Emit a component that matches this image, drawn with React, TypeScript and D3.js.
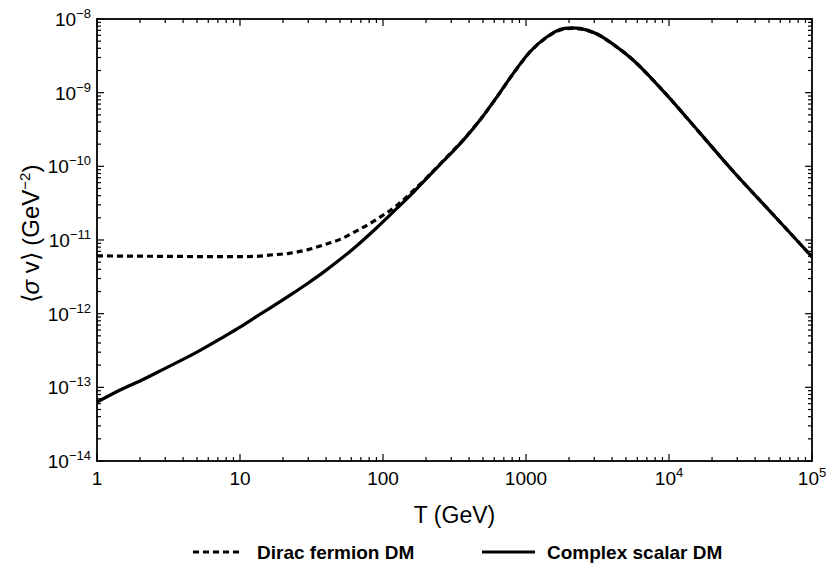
import React from "react";
import * as d3 from "d3";

const tValues = [1, 1.5, 2, 3, 5, 7.6, 10, 13, 16, 22, 30, 38, 50, 65, 90, 125, 163, 213, 279, 370, 477, 624, 815, 1067, 1396, 1824, 2100, 2387, 3120, 4080, 5636, 7500, 9640, 16480, 28180, 48200, 82400, 100000];

const complexScalar = [6.3e-14, 9.5e-14, 1.22e-13, 1.81e-13, 3.0e-13, 4.78e-13, 6.55e-13, 9.1e-13, 1.17e-12, 1.74e-12, 2.61e-12, 3.61e-12, 5.42e-12, 8.24e-12, 1.455e-11, 2.68e-11, 4.43e-11, 7.67e-11, 1.31e-10, 2.34e-10, 4.25e-10, 8.67e-10, 1.83e-9, 3.59e-9, 5.7e-9, 7.4e-9, 7.6e-9, 7.46e-9, 6.3e-9, 4.52e-9, 2.75e-9, 1.58e-9, 9.33e-10, 2.82e-10, 8.5e-11, 2.75e-11, 8.9e-12, 5.9e-12];

const diracFermion = [6.1e-12, 6.05e-12, 6.03e-12, 6.0e-12, 5.96e-12, 5.95e-12, 5.95e-12, 6.0e-12, 6.24e-12, 6.6e-12, 7.41e-12, 8.51e-12, 1.02e-11, 1.32e-11, 1.9e-11, 2.95e-11, 4.68e-11, 7.76e-11, 1.33e-10, 2.37e-10, 4.27e-10, 8.67e-10, 1.82e-9, 3.57e-9, 5.65e-9, 7.3e-9, 7.48e-9, 7.34e-9, 6.25e-9, 4.5e-9, 2.75e-9, 1.58e-9, 9.33e-10, 2.82e-10, 8.5e-11, 2.75e-11, 8.9e-12, 5.9e-12];

const xTickLabels = [
  { v: 1, base: "1", exp: "" },
  { v: 10, base: "10", exp: "" },
  { v: 100, base: "100", exp: "" },
  { v: 1000, base: "1000", exp: "" },
  { v: 1e4, base: "10", exp: "4" },
  { v: 1e5, base: "10", exp: "5" },
];
const yTickExps = [-8, -9, -10, -11, -12, -13, -14];

const seriesNames = ["Dirac fermion DM", "Complex scalar DM"];

const W = 826;
const H = 563;
const L = 97, R = 812, T = 19, B = 461;
const FONT = "'Liberation Sans', Arial, Helvetica, sans-serif";

export default function App() {
  const x = d3.scaleLog().domain([1, 1e5]).range([L, R]);
  const y = d3.scaleLog().domain([1e-14, 1e-8]).range([B, T]);

  const line = d3
    .line<number>()
    .x((_, i) => x(tValues[i]))
    .y((d) => y(d))
    .curve(d3.curveMonotoneX);

  const xMajor: number[] = [];
  const xMinor: number[] = [];
  for (let e = 0; e < 5; e++) {
    xMajor.push(Math.pow(10, e));
    for (let k = 2; k <= 9; k++) xMinor.push(k * Math.pow(10, e));
  }
  xMajor.push(1e5);
  const yMajor: number[] = [];
  const yMinor: number[] = [];
  for (let e = -14; e < -8; e++) {
    yMajor.push(Math.pow(10, e));
    for (let k = 2; k <= 9; k++) yMinor.push(k * Math.pow(10, e));
  }
  yMajor.push(1e-8);

  const MAJ = 7, MIN = 4;

  return (
    <svg width={W} height={H} style={{ position: "absolute", left: 0, top: 0, background: "#fff" }} fontFamily={FONT}>
      <rect x={0} y={0} width={W} height={H} fill="#fff" />
      <defs>
        <clipPath id="plotclip">
          <rect x={L} y={T} width={R - L} height={B - T} />
        </clipPath>
      </defs>
      <g clipPath="url(#plotclip)">
        <path d={line(diracFermion) || ""} fill="none" stroke="#000" strokeWidth={3.2} strokeDasharray="6 4" />
        <path d={line(complexScalar) || ""} fill="none" stroke="#000" strokeWidth={3.2} />
      </g>
      <g stroke="#000" strokeWidth={1.2}>
        {xMajor.map((v, i) => (
          <g key={"xM" + i}>
            <line x1={x(v)} x2={x(v)} y1={B} y2={B - MAJ} />
            <line x1={x(v)} x2={x(v)} y1={T} y2={T + MAJ} />
          </g>
        ))}
        {xMinor.map((v, i) => (
          <g key={"xm" + i}>
            <line x1={x(v)} x2={x(v)} y1={B} y2={B - MIN} />
            <line x1={x(v)} x2={x(v)} y1={T} y2={T + MIN} />
          </g>
        ))}
        {yMajor.map((v, i) => (
          <g key={"yM" + i}>
            <line x1={L} x2={L + MAJ} y1={y(v)} y2={y(v)} />
            <line x1={R} x2={R - MAJ} y1={y(v)} y2={y(v)} />
          </g>
        ))}
        {yMinor.map((v, i) => (
          <g key={"ym" + i}>
            <line x1={L} x2={L + MIN} y1={y(v)} y2={y(v)} />
            <line x1={R} x2={R - MIN} y1={y(v)} y2={y(v)} />
          </g>
        ))}
      </g>
      <rect x={L} y={T} width={R - L} height={B - T} fill="none" stroke="#000" strokeWidth={1.8} />
      <g fontSize={19} fill="#000">
        {xTickLabels.map((t, i) => (
          <text key={"xl" + i} x={x(t.v)} y={485} textAnchor="middle">
            {t.base}
            {t.exp ? (
              <tspan fontSize={13} dy={-8}>
                {t.exp}
              </tspan>
            ) : null}
          </text>
        ))}
      </g>
      <g fontSize={19} fill="#000">
        {yTickExps.map((e, i) => (
          <text key={"yl" + i} x={91} y={y(Math.pow(10, e)) + 7} textAnchor="end">
            10
            <tspan fontSize={13} dy={-8}>
              {"\u2212" + Math.abs(e)}
            </tspan>
          </text>
        ))}
      </g>
      <text x={(L + R) / 2} y={523} textAnchor="middle" fontSize={23} fill="#000">
        T (GeV)
      </text>
      <text transform={`translate(39, 234) rotate(-90)`} textAnchor="middle" fontSize={24} fill="#000">
        {"\u27e8"}
        <tspan fontStyle="italic">{"\u03c3"}</tspan>
        {" v\u27e9 (GeV"}
        <tspan fontSize={15} dy={-9}>
          {"\u22122"}
        </tspan>
        <tspan dy={9}>)</tspan>
      </text>
      <g fontSize={19} fontWeight="bold" fill="#000">
        <line x1={193} x2={242} y1={552} y2={552} stroke="#000" strokeWidth={3} strokeDasharray="6 4" />
        <text x={257} y={559}>{seriesNames[0]}</text>
        <line x1={482} x2={535} y1={552} y2={552} stroke="#000" strokeWidth={3} />
        <text x={547} y={559}>{seriesNames[1]}</text>
      </g>
    </svg>
  );
}
